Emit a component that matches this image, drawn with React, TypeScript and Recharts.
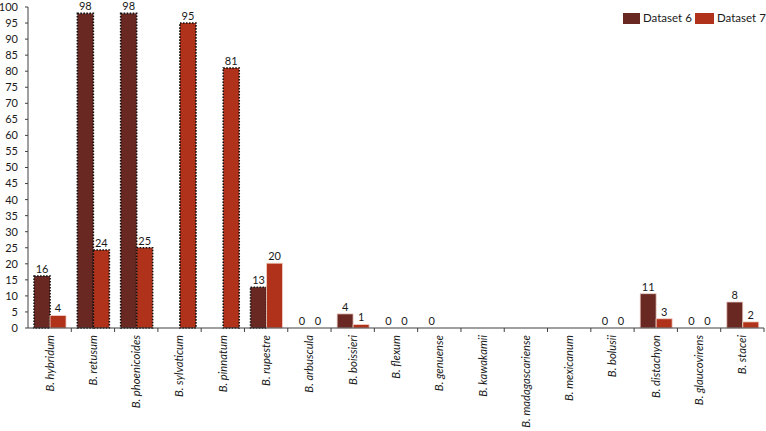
import React from 'react';
import { BarChart, Bar, XAxis, YAxis, Cell, LabelList } from 'recharts';

const categories = [
  'B. hybridum', 'B. retusum', 'B. phoenicoides', 'B. sylvaticum', 'B. pinnatum',
  'B. rupestre', 'B. arbuscula', 'B. boissieri', 'B. flexum', 'B. genuense',
  'B. kawakamii', 'B. madagascariense', 'B. mexicanum', 'B. bolusii',
  'B. distachyon', 'B. glaucovirens', 'B. stacei',
];
const dataset6: (number | null)[] = [16.2, 98, 98, null, null, 12.7, 0, 4.4, 0, 0, null, null, null, 0, 10.7, 0, 8.1];
const dataset7: (number | null)[] = [3.9, 24.3, 25, 95, 81, 20.2, 0, 1.1, 0, null, null, null, null, 0, 2.9, 0, 1.9];
const dataset6Outlined = ['B. hybridum', 'B. retusum', 'B. phoenicoides', 'B. rupestre'];
const dataset7Outlined = ['B. retusum', 'B. phoenicoides', 'B. sylvaticum', 'B. pinnatum'];
const seriesNames = ['Dataset 6', 'Dataset 7'];
const yTicks = [0, 5, 10, 15, 20, 25, 30, 35, 40, 45, 50, 55, 60, 65, 70, 75, 80, 85, 90, 95, 100];

const data = categories.map((name, i) => ({ name, d6: dataset6[i], d7: dataset7[i] }));

const W = 766;
const H = 431;
const M = { top: 7, right: 2, bottom: 0, left: 0 };
const Y_W = 28;
const BAND = (W - M.left - M.right - Y_W) / categories.length;

const C6 = '#6a2822';
const C7 = '#b1321a';
const FONT = 'Lato, "Noto Sans", sans-serif';

const XTick = (props: any) => {
  const { x, y, payload } = props;
  const bx = x + BAND / 2;
  const ty = y + 7;
  return (
    <g>
      <line x1={bx} y1={y} x2={bx} y2={y + 4} stroke="#404040" strokeWidth={1} />
      <text
        x={x}
        y={ty}
        transform={`rotate(-90, ${x}, ${ty})`}
        textAnchor="end"
        dy="0.35em"
        fontSize={11.3}
        fontStyle="italic"
        fontFamily={FONT}
        fill="#1a1a1a"
      >
        {payload.value}
      </text>
    </g>
  );
};

const fmt = (v: any) => (v === null || v === undefined ? '' : String(Math.round(v)));
const minSize = (v: any) => (v === 0 ? 0.01 : 0);

const cellStyle = (outlined: boolean, v: number | null, edge: string) => {
  if (outlined) return { stroke: '#111', strokeWidth: 1.6, strokeDasharray: '1.6 1.4' };
  if (!v) return { stroke: 'none', strokeWidth: 0 };
  return { stroke: edge, strokeWidth: 0.8 };
};

export default function App() {
  return (
    <div style={{ position: 'absolute', left: 0, top: 0, width: W, height: H, background: '#fff' }}>
      <BarChart width={W} height={H} data={data} margin={M} barCategoryGap="14%" barGap={0}>
        <XAxis
          dataKey="name"
          interval={0}
          height={H - M.top - 321}
          tickSize={0}
          tickMargin={0}
          tickLine={false}
          axisLine={{ stroke: '#404040' }}
          tick={<XTick />}
        />
        <YAxis
          domain={[0, 100]}
          ticks={yTicks}
          interval={0}
          width={Y_W}
          tickSize={3}
          tickMargin={7}
          axisLine={{ stroke: '#404040' }}
          tickLine={{ stroke: '#404040' }}
          tick={{ fontSize: 11, fill: '#1a1a1a', fontFamily: FONT }}
        />
        <Bar dataKey="d6" name={seriesNames[0]} fill={C6} minPointSize={minSize} isAnimationActive={false}>
          {data.map((d, i) => (
            <Cell key={i} fill={C6} {...cellStyle(dataset6Outlined.includes(d.name), d.d6, '#efd3cc')} />
          ))}
          <LabelList dataKey="d6" position="top" offset={3} formatter={fmt} fontSize={11} fill="#1a1a1a" fontFamily={FONT} />
        </Bar>
        <Bar dataKey="d7" name={seriesNames[1]} fill={C7} minPointSize={minSize} isAnimationActive={false}>
          {data.map((d, i) => (
            <Cell key={i} fill={C7} {...cellStyle(dataset7Outlined.includes(d.name), d.d7, '#f2d6cc')} />
          ))}
          <LabelList dataKey="d7" position="top" offset={3} formatter={fmt} fontSize={11} fill="#1a1a1a" fontFamily={FONT} />
        </Bar>
      </BarChart>
      <div style={{ position: 'absolute', left: 623, top: 13, width: 17, height: 11, background: C6 }} />
      <div style={{ position: 'absolute', left: 643, top: 10, fontFamily: FONT, fontSize: 11.5, lineHeight: '16px', color: '#1a1a1a', whiteSpace: 'nowrap' }}>
        {seriesNames[0]}
      </div>
      <div style={{ position: 'absolute', left: 695, top: 13, width: 19, height: 11, background: C7 }} />
      <div style={{ position: 'absolute', left: 717, top: 10, fontFamily: FONT, fontSize: 11.5, lineHeight: '16px', color: '#1a1a1a', whiteSpace: 'nowrap' }}>
        {seriesNames[1]}
      </div>
    </div>
  );
}
